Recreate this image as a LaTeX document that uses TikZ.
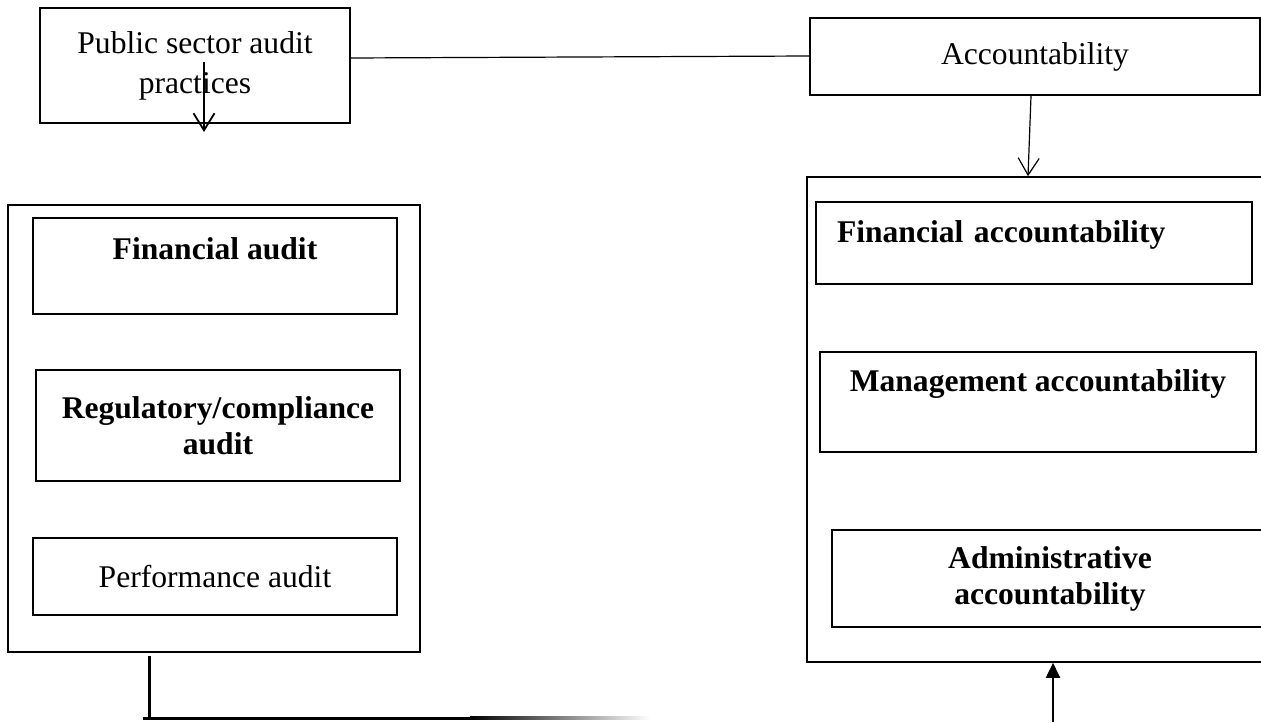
\documentclass[tikz,border=0pt]{standalone}
\usepackage{fontspec}
\setmainfont{Liberation Serif}
\usetikzlibrary{arrows.meta}

\begin{document}
\begin{tikzpicture}[x=0.5pt, y=-0.5pt,
      every node/.style = {font=\fontsize{15.8}{18}\selectfont, align=center},
      box/.style = {shape=rectangle, draw, line width=0.8pt, inner sep=0pt},
      bold/.style = {font=\fontsize{15.8}{18}\selectfont\bfseries},
      link/.style = {line width=0.6pt, -{Straight Barb[length=8.5pt, width=10.5pt]}}]
  \useasboundingbox (0,0) rectangle (1261,722);
  \clip (0,0) rectangle (1261,722);

  % top row
  \node[box, minimum width=155pt, minimum height=57.5pt] (pub) at (195,65.5)
    {Public sector audit\\[2pt] practices};
  \node[box, minimum width=225pt, minimum height=38.5pt] (acc) at (1035,56.5) {Accountability};

  % audit practices
  \node[box, minimum width=206pt, minimum height=223.5pt] (audits) at (214,428.5) {};
  \node[box, bold, minimum width=182pt, text height=20.75pt, text depth=27.25pt] (fin) at (215,266) {Financial audit};
  \node[box, bold, minimum width=182pt, minimum height=55.5pt] (reg) at (218,425.5) {Regulatory/compliance\\audit};
  \node[box, minimum width=182pt, minimum height=38.5pt] (perf) at (215,576.5) {Performance audit};

  % kinds of accountability
  \node[box, minimum width=231.5pt, minimum height=242.5pt] (accts) at (1038.5,419.5) {};
  \node[box, bold, text width=197pt, align=left, inner xsep=10.5pt, text height=20.25pt, text depth=20.75pt] (finacc) at (1034,243) {Financial accountability};
  \node[box, bold, minimum width=218pt, text height=19.85pt, text depth=30.15pt] (mgmt) at (1038,402) {Management accountability};
  \node[box, bold, minimum width=218pt, minimum height=48.5pt] (admin) at (1050,578.5) {Administrative\\accountability};

  % connectors
  \coordinate (drop) at (204,62);
  \coordinate (foot) at (149,656);
  \coordinate (corner) at (143,718);
  \coordinate (fadestart) at (470,716.5);
  \coordinate (fadeout) at (650,719.5);
  \coordinate (rise) at (1053,722);

  \draw[line width=0.6pt] ([yshift=3.75pt]pub.east) -- ([yshift=0.25pt]acc.west);
  \draw[link, line width=0.9pt] (drop) -- ++(0,70);
  \draw[link] ([xshift=-2pt]acc.south) -- ([xshift=-5.25pt]accts.north);
  \draw[line width=1.5pt] (foot) -- (foot |- corner);
  \draw[line width=1.5pt] (corner) -- (fadestart |- corner);
  \shade[left color=black, right color=white] (fadestart) rectangle (fadeout);
  \draw[line width=1pt, -{Triangle[length=7.5pt, width=7pt]}] (rise) -- (rise |- accts.south);
\end{tikzpicture}
\end{document}
